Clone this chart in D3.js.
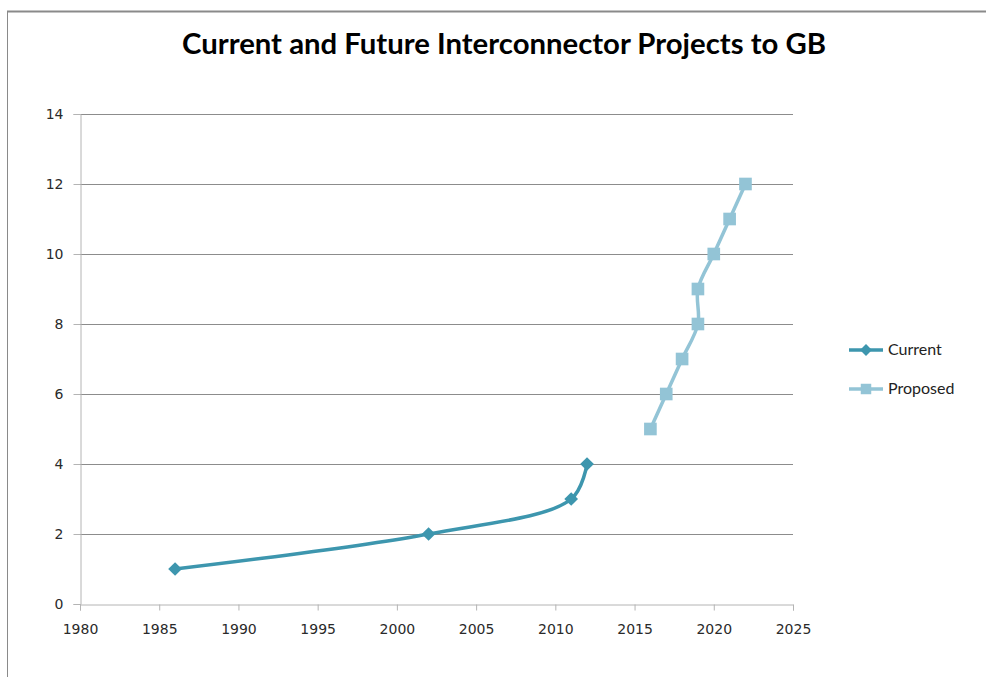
<!DOCTYPE html>
<meta charset="utf-8">
<script src="https://d3js.org/d3.v7.min.js"></script>
<style>
  body { margin: 0; background: #fff; }
  svg { display: block; }
</style>
<div id="chart"></div>
<script>
// data
var currentYears = [1986, 2002, 2011, 2012];
var currentValues = [1, 2, 3, 4];
var proposedYears = [2016, 2017, 2018, 2019, 2019, 2020, 2021, 2022];
var proposedValues = [5, 6, 7, 8, 9, 10, 11, 12];
var xTicks = [1980, 1985, 1990, 1995, 2000, 2005, 2010, 2015, 2020, 2025];
var yTicks = [0, 2, 4, 6, 8, 10, 12, 14];
var seriesNames = ["Current", "Proposed"];

var W = 986, H = 677;
var margin = {top: 114, left: 80, right: 193, bottom: 73};
var width = W - margin.left - margin.right,
    height = H - margin.top - margin.bottom;

var svg = d3.select("#chart").append("svg")
  .attr("width", W).attr("height", H);

// outer chart border (top and left visible)
svg.append("line").attr("x1", 7).attr("x2", W).attr("y1", 11.5).attr("y2", 11.5)
  .style("stroke", "#8a8a8a").style("stroke-width", 2);
svg.append("line").attr("x1", 7.5).attr("x2", 7.5).attr("y1", 11).attr("y2", H)
  .style("stroke", "#8a8a8a").style("stroke-width", 1);

// title
svg.append("text")
  .attr("x", 182).attr("y", 54)
  .attr("textLength", 644).attr("lengthAdjust", "spacingAndGlyphs")
  .style("font-family", "Lato, 'Open Sans', sans-serif")
  .style("font-weight", "bold")
  .style("font-size", "29px")
  .style("fill", "#000")
  .text("Current and Future Interconnector Projects to GB");

var g = svg.append("g")
  .attr("transform", "translate(" + margin.left + "," + margin.top + ")");

var x = d3.scaleLinear().domain([1980, 2025]).range([0, width]);
var y = d3.scaleLinear().domain([0, 14]).range([height, 0]);

// gridlines
g.append("g").selectAll("line")
  .data(yTicks.filter(function(d) { return d > 0; }))
  .enter().append("line")
    .attr("x1", 0).attr("x2", width)
    .attr("y1", function(d) { return Math.round(y(d)) + 0.5; })
    .attr("y2", function(d) { return Math.round(y(d)) + 0.5; })
    .style("stroke", "#8c8c8c").style("stroke-width", 1);

// y axis
var yAxis = g.append("g")
  .attr("transform", "translate(0.5,0)")
  .call(d3.axisLeft(y).tickValues(yTicks).tickSize(7).tickPadding(10));
yAxis.select(".domain").style("stroke", "#b4b4b4");
yAxis.selectAll(".tick line").style("stroke", "#b4b4b4");
yAxis.selectAll("text")
  .style("font-family", "'DejaVu Sans', sans-serif")
  .style("font-size", "14px").style("fill", "#2a2a2a");

// x axis
var xAxis = g.append("g")
  .attr("transform", "translate(0," + (height + 0.5) + ")")
  .call(d3.axisBottom(x).tickValues(xTicks).tickFormat(d3.format("d")).tickSize(6).tickPadding(14));
xAxis.select(".domain").style("stroke", "#b4b4b4");
xAxis.selectAll(".tick line").style("stroke", "#b4b4b4");
xAxis.selectAll("text")
  .style("font-family", "'DejaVu Sans', sans-serif")
  .style("font-size", "14px").style("fill", "#2a2a2a");

var colors = {Current: "#3d96ae", Proposed: "#93c4d6"};

var line = d3.line()
  .x(function(d) { return x(d[0]); })
  .y(function(d) { return y(d[1]); })
  .curve(d3.curveCatmullRom.alpha(0.5));

var current = d3.zip(currentYears, currentValues);
var proposed = d3.zip(proposedYears, proposedValues);

g.append("path").datum(current)
  .attr("d", line).attr("fill", "none")
  .style("stroke", colors.Current).style("stroke-width", 3.5);
g.append("path").datum(proposed)
  .attr("d", line).attr("fill", "none")
  .style("stroke", colors.Proposed).style("stroke-width", 3.5);

var diamond = d3.symbol().type(d3.symbolDiamond2).size(120);
var square = d3.symbol().type(d3.symbolSquare).size(160);

g.selectAll(".cur").data(current).enter().append("path")
  .attr("class", "cur")
  .attr("d", diamond)
  .attr("transform", function(d) { return "translate(" + x(d[0]) + "," + y(d[1]) + ")"; })
  .style("fill", colors.Current);

g.selectAll(".prop").data(proposed).enter().append("path")
  .attr("class", "prop")
  .attr("d", square)
  .attr("transform", function(d) { return "translate(" + x(d[0]) + "," + y(d[1]) + ")"; })
  .style("fill", colors.Proposed);

// legend
var legend = svg.append("g").attr("transform", "translate(849,350)");
seriesNames.forEach(function(name, i) {
  var row = legend.append("g").attr("transform", "translate(0," + (i * 39) + ")");
  row.append("line").attr("x1", 0).attr("x2", 34).attr("y1", 0).attr("y2", 0)
    .style("stroke", colors[name]).style("stroke-width", 3.5);
  row.append("path")
    .attr("d", i === 0 ? d3.symbol().type(d3.symbolDiamond2).size(90)() : d3.symbol().type(d3.symbolSquare).size(110)())
    .attr("transform", "translate(17,0)")
    .style("fill", colors[name]);
  row.append("text")
    .attr("x", 39).attr("y", 5)
    .style("font-family", "Lato, 'Open Sans', sans-serif")
    .style("font-size", "16px").style("fill", "#222")
    .text(name);
});
</script>
